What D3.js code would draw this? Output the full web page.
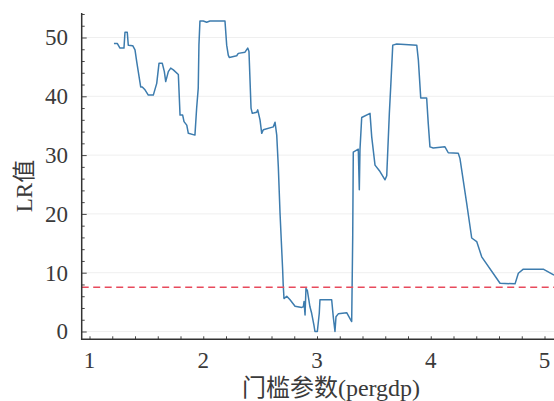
<!DOCTYPE html>
<html>
<head>
<meta charset="utf-8">
<script src="https://cdn.jsdelivr.net/npm/d3@7"></script>
<style>
  html, body { margin: 0; padding: 0; background: #fff; }
  svg { display: block; }
  text { fill: #3a3a3a; }
</style>
</head>
<body>
<svg id="chart" width="554" height="401"></svg>
<script>
// Threshold parameter (pergdp) and the LR statistic at each grid point
const gammaValues = [
  1.215, 1.244, 1.268, 1.303, 1.312, 1.332, 1.341, 1.380, 1.400, 1.415,
  1.450, 1.464, 1.488, 1.517, 1.561, 1.591, 1.611, 1.640, 1.658, 1.670,
  1.693, 1.714, 1.737, 1.781, 1.796, 1.819, 1.831, 1.855, 1.869, 1.927,
  1.942, 1.956, 1.962, 1.971, 2.000, 2.030, 2.059, 2.191, 2.206, 2.220,
  2.229, 2.294, 2.308, 2.367, 2.391, 2.402, 2.420, 2.431, 2.470, 2.479,
  2.499, 2.514, 2.528, 2.616, 2.631, 2.646, 2.660, 2.675, 2.698, 2.703,
  2.710, 2.734, 2.763, 2.807, 2.866, 2.880, 2.886, 2.895, 2.903, 2.915,
  2.938, 2.953, 2.973, 2.982, 3.003, 3.020, 3.026, 3.129, 3.143, 3.158,
  3.167, 3.187, 3.261, 3.290, 3.305, 3.314, 3.319, 3.363, 3.372, 3.378,
  3.393, 3.466, 3.481, 3.510, 3.554, 3.598, 3.613, 3.636, 3.648, 3.666,
  3.701, 3.877, 3.891, 3.912, 3.964, 3.978, 3.993, 4.022, 4.125, 4.154,
  4.242, 4.257, 4.316, 4.360, 4.404, 4.448, 4.609, 4.741, 4.770, 4.814,
  4.989, 5.084
];
const lrValues = [
  49.0, 49.0, 48.2, 48.2, 50.9, 50.9, 48.7, 48.6, 47.9, 45.9,
  41.6, 41.6, 41.1, 40.2, 40.2, 42.2, 45.6, 45.6, 44.2, 42.5,
  44.2, 44.8, 44.5, 43.7, 36.8, 36.8, 35.7, 35.1, 33.7, 33.4,
  38.0, 41.4, 48.7, 52.8, 52.8, 52.6, 52.8, 52.8, 48.7, 47.0,
  46.6, 46.9, 47.3, 47.5, 48.2, 47.6, 38.0, 37.1, 37.3, 37.7,
  36.0, 33.7, 34.3, 34.8, 35.6, 33.4, 28.0, 20.1, 10.5, 7.9,
  5.6, 6.0, 5.4, 4.3, 4.1, 4.2, 5.1, 2.8, 7.3, 7.0,
  4.2, 3.1, 1.1, 0.0, 0.0, 3.1, 5.4, 5.4, 2.5, 0.0,
  2.5, 3.0, 3.2, 2.2, 1.7, 16.1, 30.5, 31.0, 24.1, 31.0,
  36.4, 37.1, 33.1, 28.3, 27.2, 25.8, 26.5, 37.1, 41.6, 48.7,
  48.9, 48.7, 46.2, 39.7, 39.7, 35.4, 31.4, 31.2, 31.4, 30.4,
  30.3, 29.4, 21.8, 15.9, 15.3, 12.7, 8.2, 8.1, 9.9, 10.6,
  10.6, 9.6
];
// Critical value drawn as the reference line
const criticalValue = [7.52];
const xTickValues = [1, 2, 3, 4, 5];
const yTickValues = [0, 10, 20, 30, 40, 50];
const xTitle = ["门槛参数(pergdp)"];
const yTitle = ["LR值"];

const svg = d3.select("#chart");
const W = 554, H = 401;
const plotLeft = 81.7, plotBottom = 339.3, plotTop = 13;

const x = d3.scaleLinear().domain([1, 5]).range([89.5, 544.5]);
const y = d3.scaleLinear().domain([0, 50]).range([331.5, 37.5]);

const serif = "'Liberation Serif','Times New Roman','Noto Sans CJK SC',serif";

// horizontal grid
svg.append("g")
  .selectAll("line")
  .data(yTickValues)
  .join("line")
  .attr("x1", plotLeft).attr("x2", W)
  .attr("y1", d => y(d)).attr("y2", d => y(d))
  .attr("stroke", "#efefef").attr("stroke-width", 1);

// clip to plotting region
svg.append("clipPath").attr("id", "plotClip")
  .append("rect").attr("x", plotLeft).attr("y", plotTop)
  .attr("width", W - plotLeft).attr("height", plotBottom - plotTop);

const plot = svg.append("g").attr("clip-path", "url(#plotClip)");

// LR curve
const pts = gammaValues.map((g, i) => [g, lrValues[i]]);
plot.append("path")
  .datum(pts)
  .attr("fill", "none")
  .attr("stroke", "#3d7cae")
  .attr("stroke-width", 1.5)
  .attr("stroke-linejoin", "round")
  .attr("d", d3.line().x(d => x(d[0])).y(d => y(d[1])));

// critical value line
plot.selectAll("line.crit")
  .data(criticalValue)
  .join("line")
  .attr("class", "crit")
  .attr("x1", plotLeft).attr("x2", W)
  .attr("y1", d => y(d)).attr("y2", d => y(d))
  .attr("stroke", "#e84a5c")
  .attr("stroke-width", 1.4)
  .attr("stroke-dasharray", "7,4.5");

// axes with inward ticks
const yAxis = d3.axisRight(y)
  .tickValues(d3.range(0, 55, 2))
  .tickSize(3)
  .tickFormat("");
const gy = svg.append("g").attr("transform", `translate(${plotLeft},0)`).call(yAxis);
gy.select(".domain").remove();
gy.selectAll(".tick line").attr("stroke", "#444")
  .attr("x2", d => (d % 10 === 0 ? 5 : 3));

const xAxis = d3.axisTop(x)
  .tickValues(d3.range(0, 22).map(i => 1 + i * 0.2))
  .tickSize(3)
  .tickFormat("");
const gx = svg.append("g").attr("transform", `translate(0,${plotBottom})`).call(xAxis);
gx.select(".domain").remove();
gx.selectAll(".tick line").attr("stroke", "#444");

svg.append("line").attr("x1", plotLeft).attr("x2", plotLeft)
  .attr("y1", plotTop).attr("y2", plotBottom + 0.7)
  .attr("stroke", "#333").attr("stroke-width", 1.5);
svg.append("line").attr("x1", plotLeft - 0.7).attr("x2", W)
  .attr("y1", plotBottom).attr("y2", plotBottom)
  .attr("stroke", "#333").attr("stroke-width", 1.5);

// tick labels
svg.append("g").selectAll("text")
  .data(yTickValues)
  .join("text")
  .attr("x", 68).attr("y", d => y(d))
  .attr("dy", "0.34em")
  .attr("text-anchor", "end")
  .style("font-family", serif).style("font-size", "23px")
  .text(d => d);

svg.append("g").selectAll("text")
  .data(xTickValues)
  .join("text")
  .attr("x", d => x(d)).attr("y", 368)
  .attr("text-anchor", "middle")
  .style("font-family", serif).style("font-size", "23px")
  .text(d => d);

// axis titles
svg.append("text")
  .attr("x", 331).attr("y", 396)
  .attr("text-anchor", "middle")
  .style("font-family", serif).style("font-size", "24px")
  .text(xTitle[0]);

svg.append("text")
  .attr("transform", "translate(32,186) rotate(-90)")
  .attr("text-anchor", "middle")
  .style("font-family", serif).style("font-size", "23px")
  .text(yTitle[0]);
</script>
</body>
</html>
